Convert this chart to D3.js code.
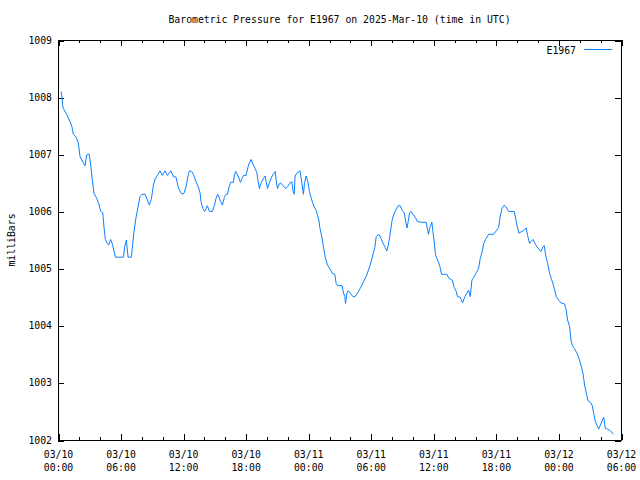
<!DOCTYPE html>
<html><head><meta charset="utf-8">
<script src="https://cdn.jsdelivr.net/npm/d3@7"></script>
<style>
body{margin:0;background:#fff}
text{font-family:"DejaVu Sans Mono","Liberation Mono",monospace;font-size:9.8px;fill:#000}
</style>
</head><body><svg id="c" width="640" height="480"></svg>
<script>
const chartTitle = "Barometric Pressure for E1967 on 2025-Mar-10 (time in UTC)";
const yLabel = "milliBars";
const seriesName = "E1967";
const startUTC = "2025-03-10T00:00:00Z";
const endUTC = "2025-03-12T06:00:00Z";
const yTicks = [1002, 1003, 1004, 1005, 1006, 1007, 1008, 1009];

// hours since 03/10 00:00 UTC
const hoursFromStart = [
0.29,0.38,0.45,0.51,0.83,1.15,1.34,1.47,1.73,1.95,2.11,2.43,2.59,2.75,3.0,3.14,3.29,3.45,3.71,3.9,
4.1,4.29,4.41,4.54,4.73,4.86,5.05,5.25,5.37,5.5,6.27,6.4,6.56,6.72,7.04,7.17,7.29,7.49,7.68,7.87,
8.06,8.35,8.57,8.76,8.96,9.15,9.34,9.53,9.79,10.01,10.27,10.49,10.82,11.07,11.32,11.52,11.71,11.9,12.09,12.28,
12.45,12.6,12.83,12.98,13.24,13.46,13.63,13.72,13.89,14.08,14.33,14.52,14.81,15.0,15.16,15.32,15.55,15.77,15.96,16.12,
16.25,16.41,16.57,16.83,16.92,17.05,17.27,17.5,17.66,17.79,18.04,18.23,18.36,18.52,18.68,18.91,19.07,19.16,19.32,19.48,
19.71,19.87,19.96,20.09,20.25,20.44,20.6,20.83,20.92,21.05,21.18,21.31,21.56,21.82,22.01,22.26,22.43,22.52,22.65,22.74,
22.91,23.22,23.39,23.54,23.64,23.8,23.96,24.12,24.25,24.41,24.57,24.76,24.89,25.02,25.11,25.27,25.46,25.65,25.85,26.1,
26.3,26.55,26.68,26.81,27.26,27.38,27.51,27.58,27.71,27.83,28.02,28.28,28.5,28.73,28.98,29.3,29.62,29.94,30.2,30.39,
30.52,30.78,30.97,31.16,31.38,31.54,31.67,31.8,31.93,32.05,32.25,32.44,32.63,32.82,33.01,33.21,33.33,33.47,33.59,33.72,
33.85,34.04,34.26,34.48,34.9,35.32,35.44,35.54,35.63,35.86,35.96,36.08,36.21,36.4,36.6,36.79,37.3,37.49,37.81,38.0,
38.2,38.32,38.58,38.8,39.03,39.22,39.38,39.54,39.7,39.86,40.12,40.34,40.5,40.69,40.82,41.01,41.3,41.78,42.03,42.26,
42.42,42.58,42.8,42.99,43.22,43.76,43.89,44.02,44.21,44.5,44.72,44.91,45.04,45.23,45.37,45.56,45.75,45.94,46.13,46.32,
46.52,46.64,46.77,46.96,47.15,47.31,47.47,47.6,47.79,48.01,48.24,48.59,48.72,48.88,49.07,49.2,49.33,49.52,49.78,49.97,
50.16,50.35,50.51,50.67,50.83,51.06,51.25,51.38,51.54,51.7,51.86,52.02,52.18,52.34,52.5,52.72,52.98,53.29
];
const pressure = [
1008.1,1008.0,1007.85,1007.8,1007.7,1007.57,1007.48,1007.35,1007.3,1007.2,1006.96,1006.85,1006.8,1006.99,1007.0,1006.8,1006.55,1006.32,1006.23,1006.14,
1006.0,1005.98,1005.73,1005.51,1005.44,1005.41,1005.51,1005.41,1005.3,1005.2,1005.2,1005.38,1005.5,1005.2,1005.2,1005.44,1005.65,1005.9,1006.08,1006.26,
1006.3,1006.3,1006.2,1006.11,1006.22,1006.46,1006.58,1006.63,1006.71,1006.63,1006.71,1006.63,1006.71,1006.61,1006.6,1006.43,1006.35,1006.3,1006.32,1006.43,
1006.61,1006.71,1006.7,1006.65,1006.52,1006.43,1006.32,1006.17,1006.05,1006.0,1006.1,1006.0,1006.0,1006.1,1006.23,1006.3,1006.2,1006.11,1006.25,1006.3,
1006.3,1006.43,1006.51,1006.51,1006.64,1006.7,1006.62,1006.51,1006.58,1006.63,1006.63,1006.78,1006.85,1006.91,1006.83,1006.75,1006.68,1006.56,1006.4,1006.5,
1006.58,1006.62,1006.52,1006.4,1006.49,1006.58,1006.64,1006.7,1006.55,1006.4,1006.46,1006.5,1006.46,1006.4,1006.43,1006.5,1006.52,1006.38,1006.3,1006.62,
1006.67,1006.71,1006.5,1006.3,1006.49,1006.62,1006.52,1006.35,1006.26,1006.16,1006.08,1006.02,1005.94,1005.85,1005.72,1005.59,1005.38,1005.18,1005.06,1004.99,
1004.92,1004.9,1004.74,1004.7,1004.7,1004.57,1004.51,1004.39,1004.57,1004.61,1004.57,1004.51,1004.51,1004.57,1004.65,1004.77,1004.89,1005.06,1005.24,1005.37,
1005.56,1005.6,1005.53,1005.45,1005.37,1005.31,1005.41,1005.53,1005.7,1005.85,1005.97,1006.04,1006.1,1006.1,1006.02,1005.97,1005.85,1005.71,1005.82,1005.97,
1006.0,1005.95,1005.9,1005.82,1005.81,1005.81,1005.68,1005.6,1005.7,1005.81,1005.65,1005.47,1005.24,1005.15,1005.06,1004.9,1004.9,1004.83,1004.8,1004.67,
1004.6,1004.51,1004.5,1004.4,1004.51,1004.57,1004.62,1004.51,1004.8,1004.84,1004.93,1005.0,1005.18,1005.3,1005.43,1005.51,1005.6,1005.6,1005.66,1005.72,
1005.92,1006.05,1006.11,1006.08,1006.0,1006.0,1005.88,1005.76,1005.62,1005.65,1005.68,1005.71,1005.58,1005.44,1005.47,1005.51,1005.44,1005.38,1005.34,1005.3,
1005.38,1005.4,1005.24,1005.09,1004.92,1004.83,1004.74,1004.65,1004.51,1004.45,1004.4,1004.38,1004.3,1004.1,1003.98,1003.75,1003.66,1003.6,1003.52,1003.43,
1003.31,1003.17,1002.96,1002.82,1002.69,1002.66,1002.6,1002.47,1002.32,1002.26,1002.19,1002.26,1002.33,1002.4,1002.2,1002.19,1002.16,1002.1
];

const svg = d3.select("#c");
const L = 58, R = 621, T = 40, B = 440;
const t0 = new Date(startUTC), t1 = new Date(endUTC);
const x = d3.scaleUtc().domain([t0, t1]).range([L, R]);
const y = d3.scaleLinear().domain([yTicks[0], yTicks[yTicks.length - 1]]).range([B, T]);

const data = hoursFromStart.map((h, i) => ({ t: new Date(t0.getTime() + h * 3600e3), v: pressure[i] }));
const majorX = d3.utcHour.every(6).range(t0, new Date(t1.getTime() + 1));
const minorX = d3.utcHour.every(2).range(t0, new Date(t1.getTime() + 1)).filter(d => d.getUTCHours() % 6 !== 0);

function styleAxis(g) {
  g.select(".domain").remove();
  g.selectAll("line").attr("stroke", "#000").attr("shape-rendering", "crispEdges");
}
// bottom / top ticks (inward)
svg.append("g").attr("transform", `translate(0.5,${B})`)
  .call(d3.axisBottom(x).tickValues(majorX).tickSize(-6).tickFormat("")).call(styleAxis);
svg.append("g").attr("transform", `translate(0.5,${B})`)
  .call(d3.axisBottom(x).tickValues(minorX).tickSize(-3).tickFormat("")).call(styleAxis);
svg.append("g").attr("transform", `translate(0.5,${T})`)
  .call(d3.axisTop(x).tickValues(majorX).tickSize(-6).tickFormat("")).call(styleAxis);
svg.append("g").attr("transform", `translate(0.5,${T})`)
  .call(d3.axisTop(x).tickValues(minorX).tickSize(-3).tickFormat("")).call(styleAxis);
// left / right ticks
svg.append("g").attr("transform", `translate(${L},0.5)`)
  .call(d3.axisLeft(y).tickValues(yTicks).tickSize(-6).tickFormat("")).call(styleAxis);
svg.append("g").attr("transform", `translate(${R},0.5)`)
  .call(d3.axisRight(y).tickValues(yTicks).tickSize(-6).tickFormat("")).call(styleAxis);

// frame
svg.append("rect").attr("x", L + 0.5).attr("y", T + 0.5).attr("width", R - L).attr("height", B - T)
  .attr("fill", "none").attr("stroke", "#000").attr("shape-rendering", "crispEdges");

// y tick labels
svg.append("g").selectAll("text").data(yTicks).join("text")
  .attr("x", L - 6).attr("y", d => y(d) + 3.5).attr("text-anchor", "end").text(d => d);

// x tick labels (two lines)
const fmtD = d3.utcFormat("%m/%d"), fmtT = d3.utcFormat("%H:%M");
const xl = svg.append("g").selectAll("text").data(majorX).join("text")
  .attr("text-anchor", "middle");
xl.append("tspan").attr("x", d => x(d) + 0.5).attr("y", B + 18).text(fmtD);
xl.append("tspan").attr("x", d => x(d) + 0.5).attr("y", B + 31).text(fmtT);

// title
svg.append("text").attr("x", (L + R) / 2).attr("y", 23).attr("text-anchor", "middle").text(chartTitle);
// y label
svg.append("text").attr("transform", `translate(15,${(T + B) / 2}) rotate(-90)`)
  .attr("text-anchor", "middle").text(yLabel);

// line
const line = d3.line().x(d => x(d.t)).y(d => y(d.v));
svg.append("path").datum(data).attr("d", line).attr("fill", "none")
  .attr("stroke", "#0a80ff").attr("stroke-width", 1);

// legend
svg.append("text").attr("x", 576).attr("y", 54).attr("text-anchor", "end").text(seriesName);
svg.append("line").attr("x1", 584).attr("x2", 612).attr("y1", 49.5).attr("y2", 49.5)
  .attr("stroke", "#0a80ff").attr("stroke-width", 1);
</script>
</body></html>
